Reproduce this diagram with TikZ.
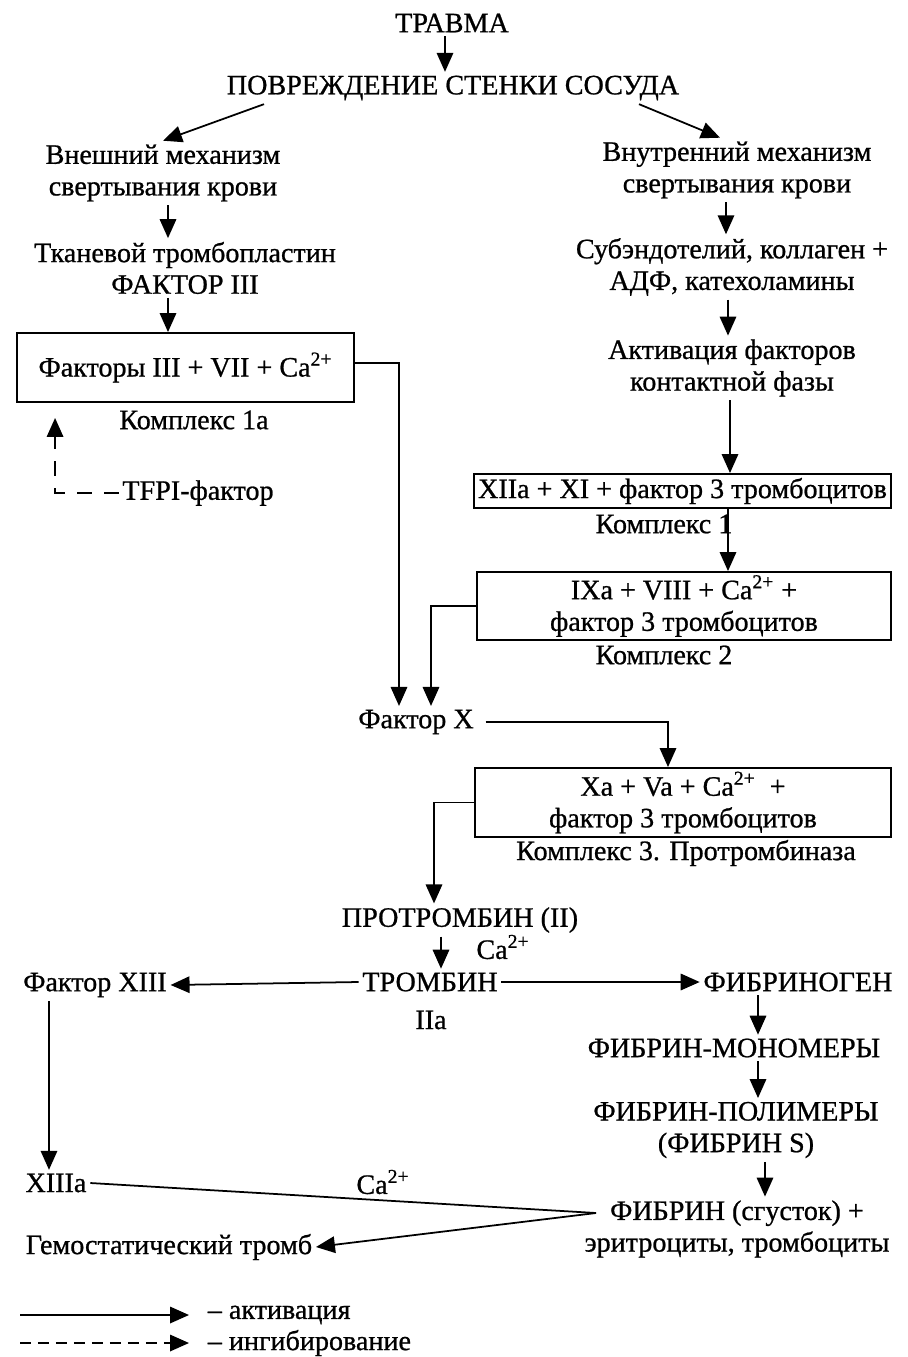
\documentclass[tikz,border=0pt]{standalone}
\usepackage{fontspec}
\setmainfont{Liberation Serif}[FakeBold=0.8]
\usetikzlibrary{positioning,arrows.meta,calc}

\begin{document}
\begin{tikzpicture}[
  x=0.02cm, y=-0.02cm,
  every node/.style = {font=\fontsize{16}{18}\selectfont, inner sep=2pt, align=center},
  cbox/.style       = {rectangle, draw, line width=1.1pt, inner sep=1pt, align=center},
  arr/.style        = {-{Triangle[length=3.8mm,width=3.3mm]}, line width=1pt},
  inh/.style        = {arr, dash pattern=on 2.2mm off 1.4mm},
]
\useasboundingbox (0,0) rectangle (907,1357);
\node (trauma)  at (452,23)  {ТРАВМА};
\node (damage)  at (453,88)  {ПОВРЕЖДЕНИЕ СТЕНКИ СОСУДА};
\node (extr)    at (163,173) {Внешний механизм\\свертывания крови};
\node (intr)    at (737,170) {Внутренний механизм\\свертывания крови};
\node (tf)      at (185,268) {Тканевой тромбопластин\\ФАКТОР III};
\node (subendo) at (732,267) {Субэндотелий, коллаген +\\АДФ, катехоламины};
\node[cbox, minimum width=6.74cm, minimum height=1.38cm] (cplx1a) at (185.5,367.5) {Факторы III + VII + Ca\textsuperscript{2+}};
\node (lbl1a)   at (194,420) {Комплекс 1а};
\node (tfpi)    at (198,493) {TFPI-фактор};
\node (contact) at (732,368) {Активация факторов\\контактной фазы};
\node[cbox, minimum width=8.34cm, minimum height=0.68cm] (cplx1) at (682.5,491) {XIIa + XI + фактор 3 тромбоцитов};
\node (lbl1)    at (664,524) {Комплекс 1};
\node[cbox, minimum width=8.28cm, minimum height=1.36cm] (cplx2) at (684,606) {IXa + VIII + Ca\textsuperscript{2+} +\\фактор 3 тромбоцитов};
\node (lbl2)    at (664,655) {Комплекс 2};
\node (fx)      at (416,722) {Фактор X};
\node[cbox, minimum width=8.32cm, minimum height=1.38cm] (cplx3) at (683,802.5) {Xa + Va + Ca\textsuperscript{2+}\ \ +\\фактор 3 тромбоцитов};
\node (lbl3)    at (686,853) {Комплекс 3. Протромбиназа};
\node (prothr)  at (460,920) {ПРОТРОМБИН (II)};
\node (ca1)     at (503,947) {Ca\textsuperscript{2+}};
\node (thr)     at (430,982) {ТРОМБИН};
\node (iia)     at (431,1020) {IIa};
\node (f13)     at (95,985)  {Фактор XIII};
\node (fibgen)  at (798,982) {ФИБРИНОГЕН};
\node (fibmono) at (734,1048) {ФИБРИН-МОНОМЕРЫ};
\node (fibpoly) at (736,1130) {ФИБРИН-ПОЛИМЕРЫ\\(ФИБРИН S)};
\node (fibclot) at (737,1229) {ФИБРИН (сгусток) +\\эритроциты, тромбоциты};
\node (f13a)    at (56,1183) {XIIIa};
\node (ca2)     at (383,1182) {Ca\textsuperscript{2+}};
\node (thromb)  at (169,1247) {Гемостатический тромб};
\node[anchor=west] (legact) at (204,1315) {– активация};
\node[anchor=west] (leginh) at (204,1343) {– ингибирование};
\coordinate (join) at (596,1213);
\coordinate (legA) at (20,1315);
\coordinate (legB) at (20,1343);
\draw[arr] (trauma.south -| 445,0) -- (damage.north -| 445,0);
\draw[arr] ([xshift=0.82cm]damage.south west) -- (extr.north);
\draw[arr] ([xshift=-0.88cm]damage.south east) -- ([xshift=-0.34cm]intr.north);
\draw[arr] (extr.south -| 168,0) -- (tf.north -| 168,0);
\draw[arr] (tf.south -| 168,0) -- (cplx1a.north -| 168,0);
\draw[arr] (intr.south -| 726,0) -- (subendo.north -| 726,0);
\draw[arr] (subendo.south -| 728,0) -- (contact.north -| 728,0);
\draw[arr] (contact.south -| 730,0) -- (cplx1.north -| 730,0);
\draw[arr] (cplx1.south -| 728,0) -- (cplx2.north -| 728,0);
\draw[arr] ([yshift=0.09cm]cplx1a.east) -| ([xshift=-0.34cm]fx.north);
\draw[arr] (cplx2.west) -| ([xshift=0.3cm]fx.north);
\draw[arr] ([xshift=0.16cm]fx.east) -| ([xshift=-0.3cm]cplx3.north);
\draw[arr] (cplx3.west) -| ([xshift=-0.52cm]prothr.north);
\draw[arr] (prothr.south -| 441,0) -- (thr.north -| 441,0);
\draw[arr] (thr.west) -- (f13.east);
\draw[arr] (thr.east) -- (fibgen.west);
\draw[arr] (fibgen.south -| 758,0) -- (fibmono.north -| 758,0);
\draw[arr] (fibmono.south -| 758,0) -- (fibpoly.north -| 758,0);
\draw[arr] (fibpoly.south -| 765,0) -- (fibclot.north -| 765,0);
\draw[arr] (f13.south -| 49,0) -- (f13a.north -| 49,0);
\draw[line width=1pt] (f13a.east) -- (join);
\draw[arr] (join) -- (thromb.east);
\draw[inh, dash pattern=on 3mm off 2.4mm] (tfpi.west) -| ([xshift=0.78cm,yshift=-0.3cm]cplx1a.south west);
\draw[arr] (legA) -- ([xshift=-0.3cm]legact.west);
\draw[inh] (legB) -- ([xshift=-0.3cm]leginh.west);
\end{tikzpicture}
\end{document}
